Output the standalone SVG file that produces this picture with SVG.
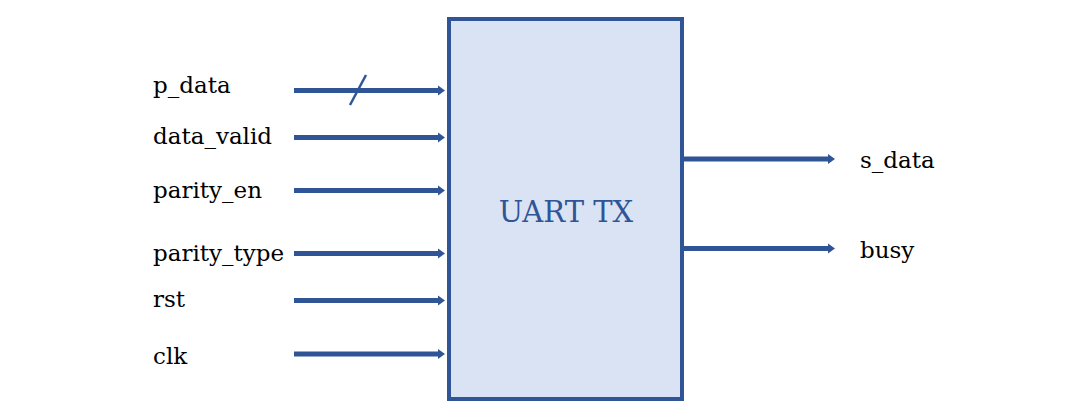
<svg xmlns="http://www.w3.org/2000/svg" width="1087" height="414" viewBox="0 0 1087 414">
<style>
.lbl{font-family:"DejaVu Serif","Liberation Serif",serif;font-size:23px;fill:#000}
.title{font-family:"DejaVu Serif","Liberation Serif",serif;font-size:29px;fill:#2F5597;text-anchor:middle}
.wire{stroke:#2F5597;stroke-width:5;fill:none}
</style>
<defs>
<marker id="ah" markerUnits="userSpaceOnUse" markerWidth="8" markerHeight="11" refX="1" refY="5.5" orient="auto">
<path d="M0,0.5 L7,5.5 L0,10.5 Z" fill="#2F5597"/>
</marker>
</defs>
<rect width="1087" height="414" fill="#fff"/>
<g id="uart_tx">
<rect x="449" y="19" width="233" height="380" fill="#DAE3F3" stroke="#2F5597" stroke-width="4"/>
<text class="title" x="566" y="222">UART TX</text>
</g>
<g id="labels">
<text class="lbl" x="153" y="93">p_data</text>
<text class="lbl" x="153" y="144">data_valid</text>
<text class="lbl" x="153" y="198">parity_en</text>
<text class="lbl" x="153" y="261">parity_type</text>
<text class="lbl" x="153" y="307">rst</text>
<text class="lbl" x="153" y="364">clk</text>
<text class="lbl" x="860" y="168">s_data</text>
<text class="lbl" x="860" y="258">busy</text>
</g>
<g id="connectors">
<path class="wire" d="M294,90.5 H439" marker-end="url(#ah)"/>
<path class="wire" d="M294,137.5 H439" marker-end="url(#ah)"/>
<path class="wire" d="M294,190.5 H439" marker-end="url(#ah)"/>
<path class="wire" d="M294,253.5 H439" marker-end="url(#ah)"/>
<path class="wire" d="M294,300.5 H439" marker-end="url(#ah)"/>
<path class="wire" d="M294,354 H439" marker-end="url(#ah)"/>
<path class="wire" d="M684,159 H829" marker-end="url(#ah)"/>
<path class="wire" d="M684,248.5 H829" marker-end="url(#ah)"/>
<line x1="350" y1="105" x2="366" y2="75" stroke="#2F5597" stroke-width="2.5"/>
</g>
</svg>
